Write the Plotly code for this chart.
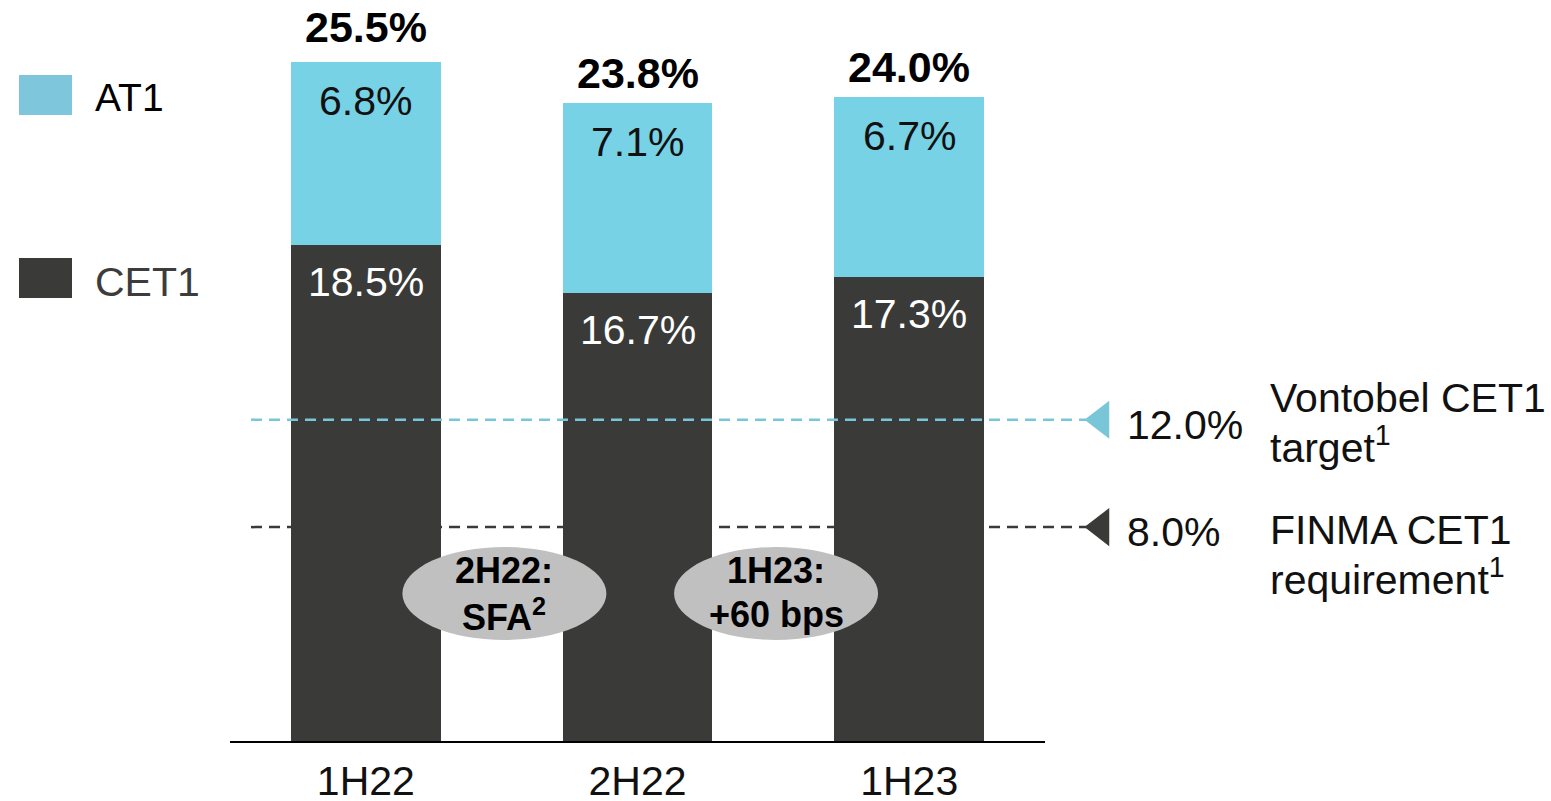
import plotly.graph_objects as go

# ---- data -------------------------------------------------------------
periods = ["1H22", "2H22", "1H23"]
cet1 = [18.5, 16.7, 17.3]
at1 = [6.8, 7.1, 6.7]
totals = [25.5, 23.8, 24.0]
cet1_labels = ["18.5%", "16.7%", "17.3%"]
at1_labels = ["6.8%", "7.1%", "6.7%"]
total_labels = ["25.5%", "23.8%", "24.0%"]

thresholds = [12.0, 8.0]
threshold_labels = ["12.0%", "8.0%"]
threshold_names = [["Vontobel CET1", "target<sup>1</sup>"],
                   ["FINMA CET1", "requirement<sup>1</sup>"]]

bubble_lines = [["2H22:", "SFA<sup>2</sup>"], ["1H23:", "+60 bps"]]

# ---- styling ----------------------------------------------------------
FONT = "Liberation Sans, Arial, sans-serif"
FS = 41
C_AT1 = "#78D2E5"
C_AT1_KEY = "#7EC6DC"
C_CET1 = "#3A3B39"
C_TARGET = "#7AC6D9"
C_BUBBLE = "#C0C0C0"

W, H = 1551, 801
PX_PER_CAT = 271.67          # horizontal pixels per category
PX_PER_PCT = 26.86           # vertical pixels per percentage point
X0_PX = 230                  # left end of the baseline
BASE_PX = 742                # pixel row of the zero line
MB = 50

x_min = -0.5 - X0_PX / PX_PER_CAT
x_max = x_min + W / PX_PER_CAT
y_min = -(H - MB - BASE_PX) / PX_PER_PCT
y_max = BASE_PX / PX_PER_PCT


def px_x(px):
    return x_min + px / PX_PER_CAT


def px_y(py):
    return (BASE_PX - py) / PX_PER_PCT


xpos = list(range(len(periods)))

fig = go.Figure()

fig.add_trace(go.Bar(x=xpos, y=cet1, name="CET1", marker=dict(color=C_CET1, line=dict(width=0)),
                     width=0.552, showlegend=False, hoverinfo="skip"))
fig.add_trace(go.Bar(x=xpos, y=at1, name="AT1", marker=dict(color=C_AT1, line=dict(width=0)),
                     width=0.552, showlegend=False, hoverinfo="skip"))

shapes = []
annotations = []

# baseline under the bars
shapes.append(dict(type="line", xref="x", yref="y", x0=-0.5, x1=len(periods) - 0.5, y0=0, y1=0,
                   line=dict(color="#000000", width=2), layer="above"))

# segment labels and totals
for i in xpos:
    annotations.append(dict(x=i, y=cet1[i], xref="x", yref="y", text=cet1_labels[i],
                            showarrow=False, yanchor="middle", yshift=-37,
                            font=dict(family=FONT, size=FS, color="#FFFFFF")))
    annotations.append(dict(x=i, y=cet1[i] + at1[i], xref="x", yref="y", text=at1_labels[i],
                            showarrow=False, yanchor="middle", yshift=-39,
                            font=dict(family=FONT, size=FS, color="#111111")))
    annotations.append(dict(x=i, y=totals[i], xref="x", yref="y", text="<b>%s</b>" % total_labels[i],
                            showarrow=False, yanchor="middle", yshift=30,
                            font=dict(family=FONT, size=43, color="#000000")))

# capital thresholds: dashed line, arrow head, value and description
th_colors = [C_TARGET, C_CET1]
name_shift = [(22, -25), (-3, -50)]
for k, t in enumerate(thresholds):
    shapes.append(dict(type="line", xref="x", yref="y", x0=px_x(251), x1=px_x(1090), y0=t, y1=t,
                       line=dict(color=th_colors[k], width=2.5, dash="11px,7px"), layer="above"))
    annotations.append(dict(x=px_x(1125), y=t, xref="x", yref="y", text=threshold_labels[k],
                            showarrow=False, xanchor="left", yanchor="middle", yshift=-5,
                            font=dict(family=FONT, size=FS, color="#111111")))
    for j, line in enumerate(threshold_names[k]):
        annotations.append(dict(x=px_x(1268), y=t, xref="x", yref="y", text=line,
                                showarrow=False, xanchor="left", yanchor="middle",
                                yshift=name_shift[k][j],
                                font=dict(family=FONT, size=FS, color="#111111")))

fig.add_trace(go.Scatter(x=[px_x(1101)] * len(thresholds), y=thresholds, mode="markers",
                         marker=dict(symbol="triangle-left", size=33, color=th_colors,
                                     line=dict(width=0)),
                         showlegend=False, hoverinfo="skip", cliponaxis=False))

# bubbles between the bars
for b, lines in enumerate(bubble_lines):
    cx = b + 0.51
    cy = px_y(593.5)
    hw = 102 / PX_PER_CAT
    hh = 46.5 / PX_PER_PCT
    shapes.append(dict(type="circle", xref="x", yref="y", x0=cx - hw, x1=cx + hw,
                       y0=cy - hh, y1=cy + hh, fillcolor=C_BUBBLE, line=dict(width=0),
                       layer="above"))
    for j, line in enumerate(lines):
        annotations.append(dict(x=cx, y=cy, xref="x", yref="y", text="<b>%s</b>" % line,
                                showarrow=False, yanchor="middle", yshift=[23, -21][j],
                                font=dict(family=FONT, size=36, color="#000000")))

# key
key = [("AT1", C_AT1_KEY, "#000000", 75, 115, 97, 39), ("CET1", C_CET1, "#3C3C3C", 258, 298, 282, 41)]
for name, col, tcol, top, bot, mid, fs in key:
    shapes.append(dict(type="rect", xref="x", yref="y", x0=px_x(19), x1=px_x(72),
                       y0=px_y(bot), y1=px_y(top), fillcolor=col, line=dict(width=0)))
    annotations.append(dict(x=px_x(93), y=px_y(mid), xref="x", yref="y", text=name,
                            showarrow=False, xanchor="left", yanchor="middle",
                            font=dict(family=FONT, size=fs, color=tcol)))

fig.update_layout(
    width=W, height=H,
    margin=dict(l=0, r=0, t=0, b=MB, autoexpand=False),
    barmode="stack",
    plot_bgcolor="#FFFFFF", paper_bgcolor="#FFFFFF",
    shapes=shapes, annotations=annotations,
    xaxis=dict(type="linear", range=[x_min, x_max], showgrid=False, zeroline=False,
               showline=False, ticks="", tickvals=xpos, ticktext=periods,
               ticklabelstandoff=2, automargin=False,
               tickfont=dict(family=FONT, size=FS, color="#111111"), fixedrange=True),
    yaxis=dict(range=[y_min, y_max], showgrid=False, zeroline=False, showline=False,
               showticklabels=False, ticks="", automargin=False, fixedrange=True),
)

fig.write_html("out.html", config={"displayModeBar": False})
